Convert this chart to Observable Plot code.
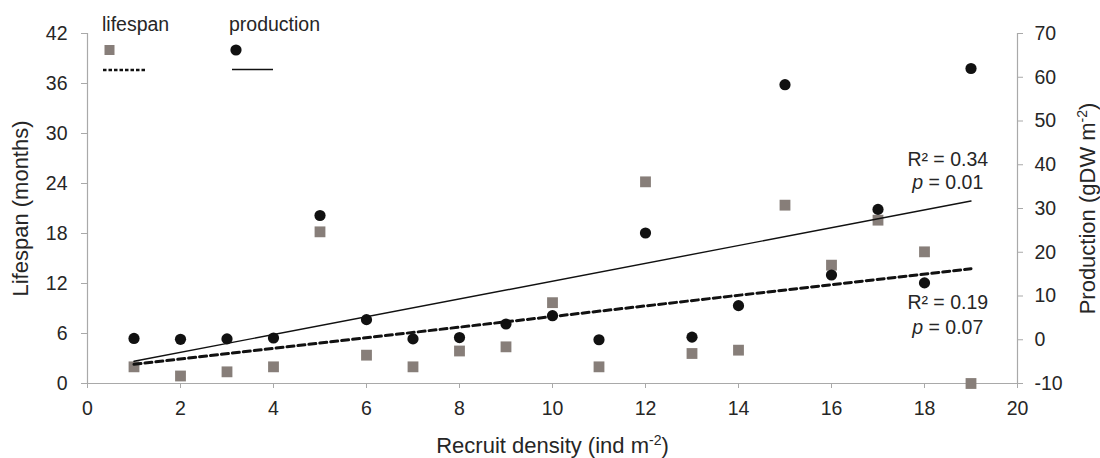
<!DOCTYPE html>
<html>
<head>
<meta charset="utf-8">
<script src="https://cdn.jsdelivr.net/npm/d3@7"></script>
<script src="https://cdn.jsdelivr.net/npm/@observablehq/plot@0.6"></script>
<style>
  body { margin: 0; background: #fff; }
  #wrap { position: relative; width: 1100px; height: 458px; font-family: "Liberation Sans", Arial, sans-serif; }
  #legend { position: absolute; left: 0; top: 0; pointer-events: none; }
</style>
</head>
<body>
<div id="wrap"></div>
<script>
// ---- data ----
const density    = [1, 2, 3, 4, 5, 6, 7, 8, 9, 10, 11, 12, 13, 14, 15, 16, 17, 18, 19];
const lifespan   = [2.0, 0.9, 1.4, 2.0, 18.2, 3.4, 2.0, 3.9, 4.4, 9.7, 2.0, 24.2, 3.6, 4.0, 21.4, 14.2, 19.6, 15.8, 0.0];
const production = [0.3, 0.1, 0.2, 0.4, 28.4, 4.6, 0.2, 0.5, 3.6, 5.5, 0.0, 24.4, 0.6, 7.8, 58.3, 14.8, 29.8, 13.0, 62.0];
const xTicks          = [0, 2, 4, 6, 8, 10, 12, 14, 16, 18, 20];
const lifespanTicks   = [0, 6, 12, 18, 24, 30, 36, 42];
const productionTicks = [-10, 0, 10, 20, 30, 40, 50, 60, 70];
const statLabels = ["R² = 0.34", "p = 0.01", "R² = 0.19", "p = 0.07"];

// ---- map the right (production) axis onto the left (lifespan) scale ----
const lDom = [0, 42], pDom = [-10, 70];
const toLeft = p => (p - pDom[0]) * (lDom[1] - lDom[0]) / (pDom[1] - pDom[0]) + lDom[0];
const fromLeft = l => (l - lDom[0]) * (pDom[1] - pDom[0]) / (lDom[1] - lDom[0]) + pDom[0];

const rows = density.map((d, i) => ({d, life: lifespan[i], prod: toLeft(production[i])}));
// annotation anchors (x in density units, y in lifespan units)
const ann = [
  {t: statLabels[0], x: 18.5, y: 26.9},
  {t: statLabels[1], x: 18.5, y: 24.1},
  {t: statLabels[2], x: 18.5, y: 9.7},
  {t: statLabels[3], x: 18.5, y: 6.7}
];

const axisCol = "#a9a9a9", textCol = "#262626";
const sqCol = "#877e79", dotCol = "#111";
const FS = 19.5, TFS = 22;

const chart = Plot.plot({
  width: 1100, height: 458,
  marginLeft: 87, marginRight: 83, marginTop: 33, marginBottom: 75,
  style: {fontFamily: "'Liberation Sans', Arial, sans-serif", fontSize: FS + "px", color: textCol, background: "#fff"},
  x: {domain: [0, 20]},
  y: {domain: lDom},
  marks: [
    Plot.ruleY([0], {stroke: axisCol, strokeWidth: 1.2}),
    Plot.ruleX([0], {stroke: axisCol, strokeWidth: 1.2}),
    Plot.ruleX([20], {stroke: axisCol, strokeWidth: 1.2}),
    Plot.axisX({ticks: xTicks, tickSize: 5, tickPadding: 13, stroke: axisCol, fill: textCol, fontSize: FS,
      label: "Recruit density (ind m-2)", labelAnchor: "center", labelArrow: "none", labelOffset: 69}),
    Plot.axisY({anchor: "left", ticks: lifespanTicks, tickSize: 6, tickPadding: 14, stroke: axisCol, fill: textCol, fontSize: FS,
      label: "Lifespan (months)", labelAnchor: "center", labelArrow: "none", labelOffset: 75}),
    Plot.axisY({anchor: "right", ticks: productionTicks.map(toLeft), tickFormat: v => String(Math.round(fromLeft(v))),
      tickSize: 5, tickPadding: 12, stroke: axisCol, fill: textCol, fontSize: FS,
      label: "Production (gDW m-2)", labelAnchor: "center", labelArrow: "none", labelOffset: 77}),
    Plot.dot(rows, {x: "d", y: "life", symbol: "square", r: 6.1, fill: sqCol, stroke: "none"}),
    Plot.dot(rows, {x: "d", y: "prod", symbol: "circle", r: 5.6, fill: dotCol, stroke: "none"}),
    Plot.linearRegressionY(rows, {x: "d", y: "prod", stroke: "#111", strokeWidth: 1.4, ci: 0}),
    Plot.linearRegressionY(rows, {x: "d", y: "life", stroke: "#111", strokeWidth: 3, strokeDasharray: "7,4", ci: 0}),
    Plot.text(ann, {x: "x", y: "y", text: "t", fontSize: FS, fill: textCol, textAnchor: "middle", lineAnchor: "middle"})
  ]
});

// axis titles: larger font, superscripts; stats: italic p
chart.querySelectorAll("text").forEach(t => {
  const s = t.textContent;
  const isTitle = /Lifespan|Recruit|Production/.test(s);
  if (isTitle) t.setAttribute("font-size", TFS);
  if (s.includes("m-2)")) {
    const pre = s.replace("m-2)", "m");
    t.innerHTML = "";
    t.append(pre);
    const sup = document.createElementNS("http://www.w3.org/2000/svg", "tspan");
    sup.setAttribute("baseline-shift", "super");
    sup.setAttribute("font-size", "14");
    sup.textContent = "-2";
    t.append(sup);
    t.append(")");
  } else if (/^p = /.test(s)) {
    t.innerHTML = "";
    const it = document.createElementNS("http://www.w3.org/2000/svg", "tspan");
    it.setAttribute("font-style", "italic");
    it.textContent = "p";
    t.append(it);
    t.append(s.slice(1));
  }
});

const wrap = document.getElementById("wrap");
wrap.append(chart);

// legend overlay
const ns = "http://www.w3.org/2000/svg";
const lg = document.createElementNS(ns, "svg");
lg.setAttribute("id", "legend");
lg.setAttribute("width", 1100);
lg.setAttribute("height", 458);
lg.innerHTML = `
  <g font-family="'Liberation Sans', Arial, sans-serif" font-size="${FS}" fill="${textCol}">
    <text x="102" y="31">lifespan</text>
    <rect x="104.5" y="45" width="10" height="10" fill="${sqCol}"></rect>
    <line x1="103" x2="145" y1="70" y2="70" stroke="#111" stroke-width="2.6" stroke-dasharray="3.5,2"></line>
    <text x="229" y="31">production</text>
    <circle cx="236" cy="50" r="5.6" fill="${dotCol}"></circle>
    <line x1="232" x2="273" y1="69.5" y2="69.5" stroke="#111" stroke-width="1.4"></line>
  </g>`;
wrap.append(lg);
</script>
</body>
</html>
